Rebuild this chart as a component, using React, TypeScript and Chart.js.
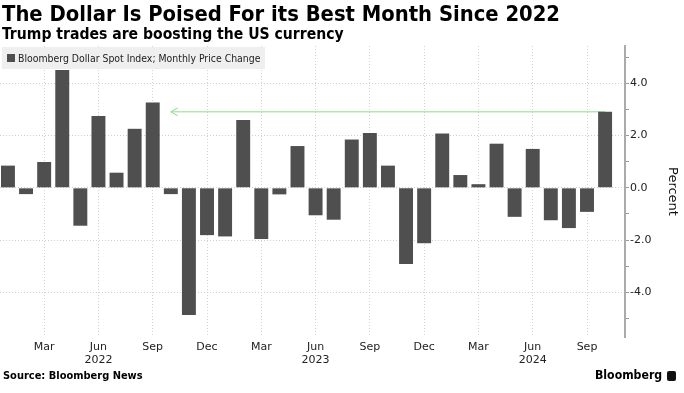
import React, { useEffect, useRef } from "react";
import { Chart, registerables } from "chart.js";
Chart.register(...registerables);

// Monthly change, Jan 2022 .. Oct 2024 (index 0..33)
const monthIndex = Array.from({ length: 34 }, (_, i) => i);
const values = [
  0.85, -0.24, 0.99, 4.51, -1.45, 2.75, 0.58, 2.26, 3.27, -0.24, -4.87, -1.81,
  -1.86, 2.6, -1.96, -0.25, 1.6, -1.05, -1.22, 1.85, 2.1, 0.85, -2.92, -2.12,
  2.08, 0.49, 0.14, 1.69, -1.11, 1.49, -1.24, -1.54, -0.92, 2.91,
];
const xTickIndex = [2, 5, 8, 11, 14, 17, 20, 23, 26, 29, 32];
const xTickLabels = [
  ["Mar"], ["Jun", "2022"], ["Sep"], ["Dec"],
  ["Mar"], ["Jun", "2023"], ["Sep"], ["Dec"],
  ["Mar"], ["Jun", "2024"], ["Sep"],
];
const arrowStartIndex = 9;
const arrowEndIndex = 33;
const arrowLevel = 2.91;

const arrowHeadPlugin = {
  id: "arrowHead",
  afterDatasetsDraw(chart: any) {
    const meta = chart.getDatasetMeta(1);
    if (!meta || !meta.data.length) return;
    const p = meta.data[0];
    const ctx = chart.ctx;
    ctx.save();
    ctx.strokeStyle = "#8fdc8f";
    ctx.lineWidth = 1;
    ctx.beginPath();
    ctx.moveTo(p.x + 7, p.y - 4);
    ctx.lineTo(p.x, p.y);
    ctx.lineTo(p.x + 7, p.y + 4);
    ctx.stroke();
    ctx.restore();
  },
};

export default function App() {
  const ref = useRef<HTMLCanvasElement>(null);
  useEffect(() => {
    document.body.style.margin = "0";
    const chart = new Chart(ref.current!, {
      type: "bar",
      data: {
        datasets: [
          {
            type: "bar",
            data: monthIndex.map((i) => ({ x: i, y: values[i] })),
            backgroundColor: "#4f4f4f",
            borderWidth: 0,
            barPercentage: 0.77,
            categoryPercentage: 1,
          } as any,
          {
            type: "line",
            data: [
              { x: arrowStartIndex, y: arrowLevel },
              { x: arrowEndIndex, y: arrowLevel },
            ],
            borderColor: "#8fdc8f",
            borderWidth: 1,
            pointRadius: 0,
            fill: false,
          } as any,
        ],
      },
      plugins: [arrowHeadPlugin],
      options: {
        animation: false,
        responsive: false,
        layout: { padding: { top: 46, left: 0, right: 0, bottom: 0 } },
        plugins: { legend: { display: false }, tooltip: { enabled: false } },
        scales: {
          x: {
            type: "linear",
            offset: false,
            min: -0.44,
            max: 34.1,
            afterFit: (s: any) => {
              s.height = 56;
            },
            afterBuildTicks: (s: any) => {
              s.ticks = xTickIndex.map((v) => ({ value: v }));
            },
            ticks: {
              autoSkip: false,
              maxRotation: 0,
              padding: 3,
              color: "#222",
              font: { family: "DejaVu Sans", size: 11, lineHeight: 1.25 },
              callback: (v: any) => xTickLabels[xTickIndex.indexOf(v)] as any,
            },
            grid: { color: "#d4d4d4", drawTicks: false, lineWidth: 1, offset: false },
            border: { display: false, dash: [1, 2] },
          },
          y: {
            position: "right",
            min: -5.71,
            max: 5.43,
            afterFit: (s: any) => {
              s.width = 59;
            },
            ticks: {
              stepSize: 1,
              includeBounds: false,
              padding: 1,
              color: "#222",
              font: { family: "DejaVu Sans", size: 11 },
              callback: (v: any) => (Math.round(v) % 2 === 0 ? Number(v).toFixed(1) : ""),
            },
            grid: {
              color: (c: any) => (Math.round(c.tick.value) % 2 === 0 ? "#cfcfcf" : "rgba(0,0,0,0)"),
              tickColor: "#999",
              tickLength: 4,
              tickWidth: 1,
              lineWidth: 1,
            },
            border: { display: true, color: "#aaa", width: 2, dash: [1, 2] },
            title: {
              display: true,
              text: "Percent",
              color: "#111",
              font: { family: "DejaVu Sans", size: 13 },
              padding: { top: 4, bottom: 0 },
            },
          },
        },
      } as any,
    });
    return () => chart.destroy();
  }, []);

  return (
    <div style={{ position: "relative", width: 684, height: 393, background: "#fff", overflow: "hidden" }}>
      <canvas ref={ref} width={684} height={393} style={{ position: "absolute", left: 0, top: 0 }} />
      <div
        style={{
          position: "absolute", left: 2, top: 1, fontFamily: "DejaVu Sans Condensed, DejaVu Sans", fontWeight: "bold",
          fontStretch: "condensed", fontSize: 21.8, lineHeight: "26px", color: "#000", whiteSpace: "nowrap",
        }}
      >
        The Dollar Is Poised For its Best Month Since 2022
      </div>
      <div
        style={{
          position: "absolute", left: 2, top: 25, fontFamily: "DejaVu Sans Condensed, DejaVu Sans", fontWeight: "bold",
          fontStretch: "condensed", fontSize: 15.6, lineHeight: "19px", color: "#000", whiteSpace: "nowrap",
        }}
      >
        Trump trades are boosting the US currency
      </div>
      <div
        style={{
          position: "absolute", left: 2, top: 47, height: 22, paddingLeft: 5, paddingRight: 5, background: "#efefef",
          display: "flex", alignItems: "center", fontFamily: "DejaVu Sans Condensed, DejaVu Sans", fontStretch: "condensed",
          fontSize: 10.4, color: "#222", whiteSpace: "nowrap",
        }}
      >
        <span style={{ display: "inline-block", width: 8, height: 8, background: "#4f4f4f", marginRight: 3 }} />
        Bloomberg Dollar Spot Index; Monthly Price Change
      </div>
      <div
        style={{
          position: "absolute", left: 3, top: 369, fontFamily: "DejaVu Sans", fontWeight: "bold", fontSize: 9.9,
          lineHeight: "13px", color: "#000", whiteSpace: "nowrap",
        }}
      >
        Source: Bloomberg News
      </div>
      <div
        style={{
          position: "absolute", left: 595, top: 367, fontFamily: "DejaVu Sans Condensed, DejaVu Sans", fontWeight: "bold",
          fontStretch: "condensed", fontSize: 12.2, lineHeight: "17px", color: "#000", whiteSpace: "nowrap", display: "flex",
          alignItems: "center",
        }}
      >
        Bloomberg
        <span style={{ display: "inline-block", width: 9, height: 10, background: "#111", marginLeft: 5, borderRadius: 2 }} />
      </div>
    </div>
  );
}
